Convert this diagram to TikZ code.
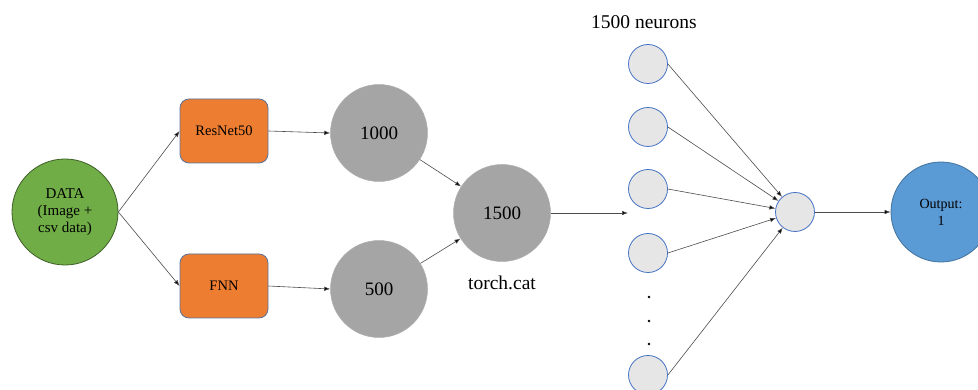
\documentclass[tikz,border=0pt]{standalone}
\usepackage{fontspec}
\setmainfont{Liberation Serif}
\usetikzlibrary{arrows.meta}
\definecolor{dgreen}{HTML}{70AD47}
\definecolor{dgreenb}{HTML}{3E5F27}
\definecolor{orng}{HTML}{ED7D31}
\definecolor{orngb}{HTML}{5B739C}
\definecolor{grayc}{HTML}{A5A5A5}
\definecolor{neur}{HTML}{E7E6E6}
\definecolor{neurb}{HTML}{4472C4}
\definecolor{outc}{HTML}{5B9BD5}
\definecolor{outb}{HTML}{41719C}
\tikzset{
  conn/.style={draw=black!70, line width=0.6pt, -{Latex[length=6pt,width=4.5pt,fill=black]}},
  datanode/.style={circle, fill=dgreen, draw=dgreenb, line width=0.8pt, minimum size=106pt, inner sep=0pt, align=center, font=\fontsize{15}{17}\selectfont},
  boxnode/.style={rectangle, rounded corners=9pt, fill=orng, draw=orngb, line width=0.8pt, minimum width=88pt, minimum height=64pt, inner sep=0pt, font=\fontsize{14.5}{16}\selectfont},
  graynode/.style={circle, fill=grayc, draw=grayc!90, line width=0.5pt, minimum size=97pt, inner sep=0pt, font=\fontsize{19}{21}\selectfont},
  neuron/.style={circle, fill=neur, draw=neurb, line width=0.8pt, minimum size=39pt, inner sep=0pt},
  outnode/.style={circle, fill=outc, draw=outb, line width=0.8pt, minimum size=100pt, inner sep=0pt, align=center, font=\fontsize{14}{17}\selectfont},
  lbl/.style={inner sep=0pt, font=\fontsize{19.5}{21}\selectfont},
  dotn/.style={circle, fill=black, inner sep=0pt, minimum size=2.6pt}
}
\begin{document}
\begin{tikzpicture}[x=1pt, y=-1pt]
\useasboundingbox (0,0) rectangle (978,390);
\node[datanode] (data) at (65,212) {DATA\\(Image +\\csv data)};
\node[boxnode] (res) at (224,131) {ResNet50};
\node[boxnode] (fnn) at (224,286) {FNN};
\node[graynode] (g1000) at (379,133) {1000};
\node[graynode] (g500) at (379,289) {500};
\node[graynode] (g1500) at (502,213) {1500};
\node[lbl] (tc) at (502,283) {torch.cat};
\node[lbl] (nl) at (644,22) {1500 neurons};
\coordinate (col) at (628,213);
\node[neuron] (n1) at (648,64) {};
\node[neuron] (n2) at (648,127) {};
\node[neuron] (n3) at (648,189) {};
\node[neuron] (n4) at (648,253) {};
\node[neuron] (n5) at (648,375) {};
\node[dotn] (d1) at (649,297) {};
\node[dotn] (d2) at (649,321) {};
\node[dotn] (d3) at (649,344) {};
\node[neuron] (mid) at (795,212) {};
\node[outnode] (out) at (941,212) {Output:\\1};
\draw[conn] (data.east) -- (res.west);
\draw[conn] (data.east) -- (fnn.west);
\draw[conn] (res.east) -- (g1000.west);
\draw[conn] (fnn.east) -- (g500.west);
\draw[conn] (g1000) -- (g1500);
\draw[conn] (g500) -- (g1500);
\draw[conn] (g1500.east) -- (col);
\draw[conn] (n1.east) -- (mid);
\draw[conn] (n2.east) -- (mid);
\draw[conn] (n3.east) -- (mid);
\draw[conn] (n4.east) -- (mid);
\draw[conn] (n5.east) -- (mid);
\draw[conn] (mid.east) -- (out.west);
\end{tikzpicture}
\end{document}
